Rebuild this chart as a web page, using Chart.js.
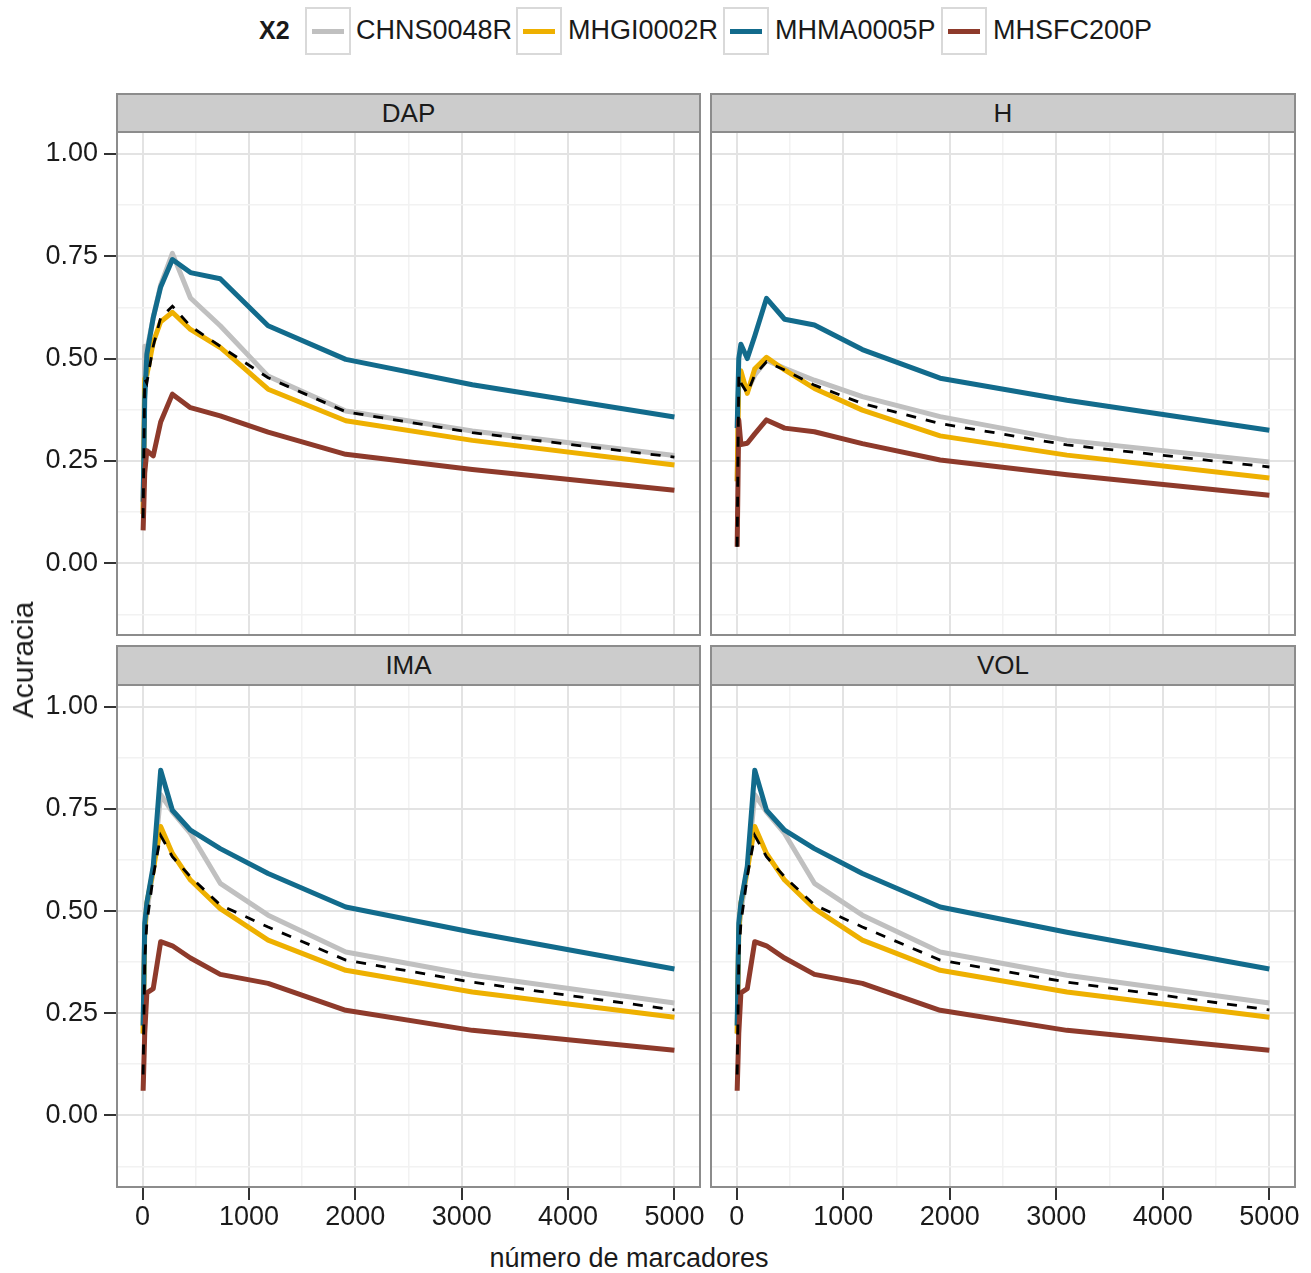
<!DOCTYPE html>
<html>
<head>
<meta charset="utf-8">
<script src="https://cdn.jsdelivr.net/npm/chart.js@4.4.0/dist/chart.umd.min.js"></script>
<style>
  body { margin: 0; background: #fff; font-family: "Liberation Sans", Arial, sans-serif; color: #1a1a1a; }
  #page { position: relative; width: 1311px; height: 1273px; overflow: hidden; background: #fff; }
  canvas { position: absolute; }
  .strip { position: absolute; box-sizing: border-box; background: #cccccc; border: 2px solid #8c8c8c;
           font-size: 26px; display: flex; align-items: center; justify-content: center; }
  .key { position: absolute; top: 7px; width: 46px; height: 48px; box-sizing: border-box; border: 2px solid #d9d9d9; background: #fff; }
  .key span { position: absolute; left: 5px; right: 5px; top: 20px; height: 5px; }
  .lab { position: absolute; top: 15px; font-size: 27px; line-height: 30px; white-space: nowrap; }
</style>
</head>
<body>
<div id="page">
  <div class="lab" style="left:259px; font-weight:bold; font-size:25px;">X2</div>
  <div class="key" style="left:305px"><span style="background:#c0c0c0"></span></div>
  <div class="lab" style="left:356px">CHNS0048R</div>
  <div class="key" style="left:516px"><span style="background:#eeb000"></span></div>
  <div class="lab" style="left:568px">MHGI0002R</div>
  <div class="key" style="left:723px"><span style="background:#126b8c"></span></div>
  <div class="lab" style="left:775px">MHMA0005P</div>
  <div class="key" style="left:941px"><span style="background:#8e3a2b"></span></div>
  <div class="lab" style="left:993px">MHSFC200P</div>

  <div class="strip" style="left:116px; top:93px; width:585px; height:40px;">DAP</div>
  <div class="strip" style="left:710px; top:93px; width:586px; height:40px;">H</div>
  <div class="strip" style="left:116px; top:645px; width:585px; height:41px;">IMA</div>
  <div class="strip" style="left:710px; top:645px; width:586px; height:41px;">VOL</div>

  <canvas id="pDAP" width="715" height="505" style="left:0; top:131px;"></canvas>
  <canvas id="pH" width="600" height="505" style="left:710px; top:131px;"></canvas>
  <canvas id="pIMA" width="715" height="554" style="left:0; top:684px;"></canvas>
  <canvas id="pVOL" width="600" height="554" style="left:710px; top:684px;"></canvas>

  <div style="position:absolute; left:23px; top:660px; font-size:30px; transform:translate(-50%,-50%) rotate(-90deg); white-space:nowrap;">Acuracia</div>
  <div style="position:absolute; left:629px; top:1258px; font-size:27px; transform:translate(-50%,-50%); white-space:nowrap;">número de marcadores</div>
</div>

<script>
// ─── Data ─────────────────────────────────────────────────────────────────────
const xMarkers = [5, 20, 40, 100, 170, 280, 450, 730, 1180, 1910, 3100, 5000];
const seriesNames = ['CHNS0048R', 'MHGI0002R', 'MHMA0005P', 'MHSFC200P'];
const seriesColors = ['#c0c0c0', '#eeb000', '#126b8c', '#8e3a2b'];

const dapCHNS  = [0.12, 0.53, 0.52, 0.60, 0.68, 0.757, 0.648, 0.580, 0.457, 0.372, 0.323, 0.263];
const dapMHGI  = [0.12, 0.45, 0.46, 0.54, 0.59, 0.613, 0.571, 0.527, 0.425, 0.348, 0.300, 0.240];
const dapMHMA  = [0.15, 0.40, 0.51, 0.60, 0.675, 0.742, 0.710, 0.695, 0.580, 0.498, 0.436, 0.357];
const dapMHSFC = [0.08, 0.22, 0.275, 0.262, 0.345, 0.413, 0.380, 0.360, 0.320, 0.266, 0.229, 0.178];
const dapMedia = [0.11, 0.45, 0.44, 0.53, 0.60, 0.628, 0.579, 0.530, 0.453, 0.370, 0.319, 0.259];

const hCHNS  = [0.20, 0.47, 0.45, 0.42, 0.46, 0.496, 0.476, 0.447, 0.407, 0.358, 0.300, 0.247];
const hMHGI  = [0.20, 0.47, 0.47, 0.415, 0.475, 0.503, 0.472, 0.427, 0.374, 0.311, 0.264, 0.208];
const hMHMA  = [0.33, 0.50, 0.535, 0.50, 0.555, 0.647, 0.596, 0.582, 0.522, 0.452, 0.398, 0.325];
const hMHSFC = [0.04, 0.35, 0.29, 0.293, 0.316, 0.350, 0.330, 0.321, 0.292, 0.252, 0.216, 0.166];
const hMedia = [0.04, 0.46, 0.44, 0.415, 0.46, 0.492, 0.472, 0.435, 0.390, 0.341, 0.289, 0.235];

const imaCHNS  = [0.20, 0.45, 0.50, 0.60, 0.785, 0.743, 0.690, 0.568, 0.490, 0.400, 0.343, 0.275];
const imaMHGI  = [0.20, 0.45, 0.52, 0.60, 0.707, 0.641, 0.576, 0.506, 0.429, 0.355, 0.302, 0.240];
const imaMHMA  = [0.22, 0.47, 0.52, 0.61, 0.845, 0.747, 0.698, 0.653, 0.592, 0.510, 0.448, 0.358];
const imaMHSFC = [0.06, 0.20, 0.30, 0.31, 0.425, 0.415, 0.385, 0.345, 0.323, 0.257, 0.208, 0.159];
const imaMedia = [0.10, 0.38, 0.47, 0.585, 0.685, 0.633, 0.584, 0.515, 0.461, 0.380, 0.326, 0.258];

const volCHNS  = [0.20, 0.45, 0.50, 0.60, 0.785, 0.743, 0.690, 0.568, 0.490, 0.400, 0.343, 0.275];
const volMHGI  = [0.20, 0.45, 0.52, 0.60, 0.707, 0.641, 0.576, 0.506, 0.429, 0.355, 0.302, 0.240];
const volMHMA  = [0.22, 0.47, 0.52, 0.61, 0.845, 0.747, 0.698, 0.653, 0.592, 0.510, 0.448, 0.358];
const volMHSFC = [0.06, 0.20, 0.30, 0.31, 0.425, 0.415, 0.385, 0.345, 0.323, 0.257, 0.208, 0.159];
const volMedia = [0.10, 0.38, 0.47, 0.585, 0.685, 0.633, 0.584, 0.515, 0.461, 0.380, 0.326, 0.258];

const xTicks = [0, 500, 1000, 1500, 2000, 2500, 3000, 3500, 4000, 4500, 5000];
const yTicks = [-0.125, 0, 0.125, 0.25, 0.375, 0.5, 0.625, 0.75, 0.875, 1];

// ─── Helpers ──────────────────────────────────────────────────────────────────
const FONT = '"Liberation Sans", Arial, sans-serif';
const isMajorX = v => v % 1000 === 0;
const isMajorY = v => Math.abs(v * 4 - Math.round(v * 4)) < 1e-6;

const panelBorder = {
  id: 'panelBorder',
  afterDraw(chart) {
    const a = chart.chartArea, ctx = chart.ctx;
    ctx.save();
    ctx.strokeStyle = '#8c8c8c';
    ctx.lineWidth = 2;
    ctx.strokeRect(a.left + 1, a.top + 1, a.right - a.left - 2, a.bottom - a.top - 2);
    ctx.restore();
  }
};

function makePanel(id, series, media, showY, showX) {
  const datasets = series.map((vals, i) => ({
    label: seriesNames[i],
    data: xMarkers.map((x, j) => ({ x, y: vals[j] })),
    borderColor: seriesColors[i],
    borderWidth: 5,
    borderJoinStyle: 'round',
    pointRadius: 0,
    tension: 0,
    order: 5 - i
  }));
  datasets.push({
    label: 'média',
    data: xMarkers.map((x, j) => ({ x, y: media[j] })),
    borderColor: '#000',
    borderWidth: 2.8,
    borderDash: [10, 10],
    pointRadius: 0,
    tension: 0,
    order: 0
  });

  return new Chart(document.getElementById(id), {
    type: 'line',
    data: { datasets },
    plugins: [panelBorder],
    options: {
      responsive: false,
      animation: false,
      events: [],
      layout: { padding: { left: 0, right: 14, top: 0, bottom: 0 } },
      plugins: { legend: { display: false }, tooltip: { enabled: false } },
      scales: {
        x: {
          type: 'linear', min: -250, max: 5250,
          afterBuildTicks: s => { s.ticks = xTicks.map(v => ({ value: v })); },
          afterFit: s => { s.height = showX ? 50 : 0; s.paddingLeft = 0; s.paddingRight = 0; },
          border: { display: false },
          grid: {
            color: c => (c.tick && isMajorX(c.tick.value)) ? '#e3e3e3' : '#f2f2f2',
            lineWidth: c => (c.tick && isMajorX(c.tick.value)) ? 2 : 1.5,
            drawTicks: showX,
            tickLength: 12,
            tickWidth: 2,
            tickColor: c => (c.tick && isMajorX(c.tick.value)) ? '#333' : 'rgba(0,0,0,0)'
          },
          ticks: {
            display: showX, autoSkip: false, maxRotation: 0, minRotation: 0, padding: 1,
            color: '#1a1a1a', font: { family: FONT, size: 27 },
            callback: v => isMajorX(v) ? String(v) : ''
          }
        },
        y: {
          type: 'linear', min: -0.178, max: 1.056,
          afterBuildTicks: s => { s.ticks = yTicks.map(v => ({ value: v })); },
          afterFit: s => { s.width = showY ? 116 : 0; s.paddingTop = 0; s.paddingBottom = 0; },
          border: { display: false },
          grid: {
            color: c => (c.tick && isMajorY(c.tick.value)) ? '#e3e3e3' : '#f2f2f2',
            lineWidth: c => (c.tick && isMajorY(c.tick.value)) ? 2 : 1.5,
            drawTicks: showY,
            tickLength: 12,
            tickWidth: 2,
            tickColor: c => (c.tick && isMajorY(c.tick.value)) ? '#333' : 'rgba(0,0,0,0)'
          },
          ticks: {
            display: showY, autoSkip: false, padding: 6,
            color: '#1a1a1a', font: { family: FONT, size: 27 },
            callback: v => isMajorY(v) ? v.toFixed(2) : ''
          }
        }
      }
    }
  });
}

makePanel('pDAP', [dapCHNS, dapMHGI, dapMHMA, dapMHSFC], dapMedia, true, false);
makePanel('pH', [hCHNS, hMHGI, hMHMA, hMHSFC], hMedia, false, false);
makePanel('pIMA', [imaCHNS, imaMHGI, imaMHMA, imaMHSFC], imaMedia, true, true);
makePanel('pVOL', [volCHNS, volMHGI, volMHMA, volMHSFC], volMedia, false, true);
</script>
</body>
</html>
